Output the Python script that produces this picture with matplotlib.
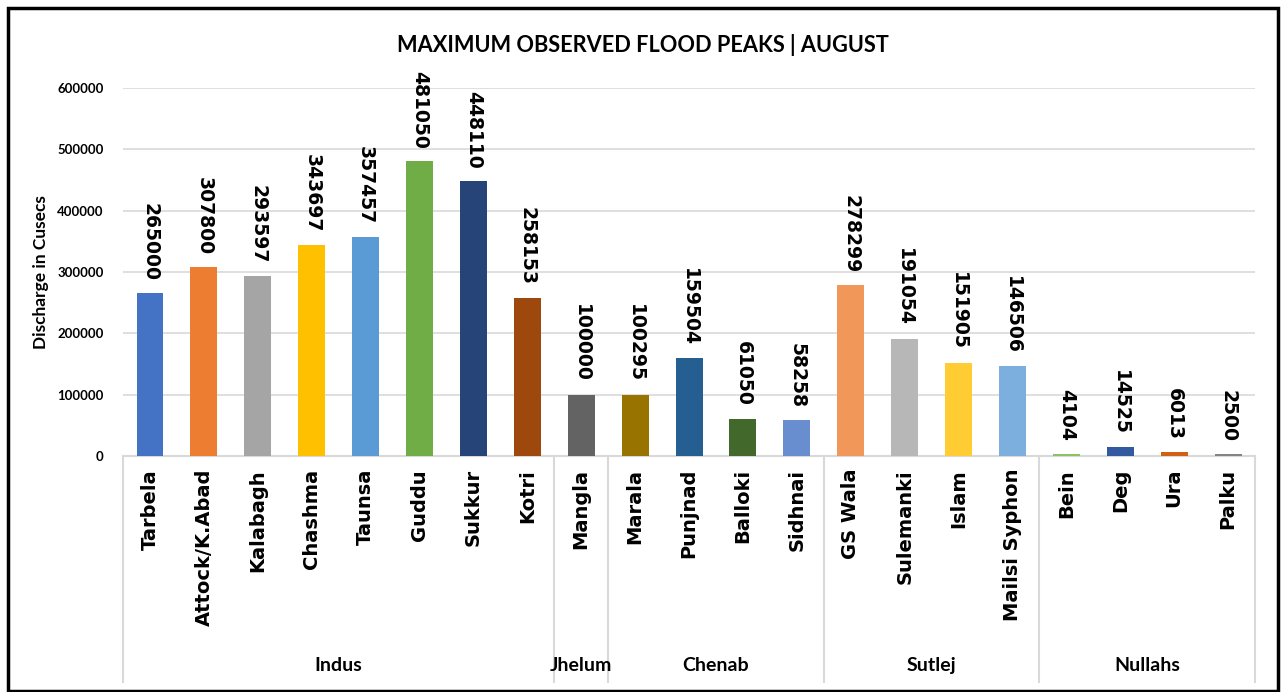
"""
Maximum observed flood peaks for August, grouped by river.
"""

import matplotlib.pyplot as plt
from matplotlib.patches import Rectangle
from matplotlib.transforms import blended_transform_factory

# Sites, discharge values and the river each belongs to
sites = ['Tarbela', 'Attock/K.Abad', 'Kalabagh', 'Chashma', 'Taunsa', 'Guddu', 'Sukkur', 'Kotri',
         'Mangla',
         'Marala', 'Punjnad', 'Balloki', 'Sidhnai',
         'GS Wala', 'Sulemanki', 'Islam', 'Mailsi Syphon',
         'Bein', 'Deg', 'Ura', 'Palku']
discharge = [265000, 307800, 293597, 343697, 357457, 481050, 448110, 258153,
             100000,
             100295, 159504, 61050, 58258,
             278299, 191054, 151905, 146506,
             4104, 14525, 6013, 2500]
rivers = ['Indus', 'Jhelum', 'Chenab', 'Sutlej', 'Nullahs']
river_sizes = [8, 1, 4, 4, 4]
yticks = [0, 100000, 200000, 300000, 400000, 500000, 600000]

colors = ['#4472C4', '#ED7D31', '#A5A5A5', '#FFC000', '#5B9BD5', '#70AD47', '#264478', '#9E480E',
          '#636363', '#997300', '#255E91', '#43682B', '#698ED0', '#F1975A', '#B7B7B7', '#FFCD33',
          '#7CAFDD', '#8CC168', '#335AA1', '#D26012', '#848484']

fig = plt.figure(figsize=(12.86, 6.92), dpi=100)
ax = fig.add_axes([0.0957, 0.341, 0.8802, 0.5318])

x = list(range(len(sites)))
ax.bar(x, discharge, width=0.5, color=colors, zorder=3)

# Rotated value labels above bars
for xi, v in zip(x, discharge):
    ax.annotate(str(v), (xi, v), xytext=(0, 9), textcoords='offset points',
                rotation=270, ha='center', va='bottom', fontsize=13.5, fontweight='bold')

ax.set_xlim(-0.5, len(sites) - 0.5)
ax.set_ylim(0, 600000)
ax.set_yticks(yticks)
ax.set_yticklabels([str(t) for t in yticks], fontsize=9.5, fontweight='bold', family='Lato')
ax.tick_params(axis='y', length=0, pad=14)
ax.tick_params(axis='x', length=0, labelbottom=False)
ax.grid(axis='y', color='#D9D9D9', linewidth=1.2, zorder=0)
for side in ['top', 'right', 'left']:
    ax.spines[side].set_visible(False)
ax.spines['bottom'].set_color('#D9D9D9')
ax.spines['bottom'].set_linewidth(1.5)
ax.set_ylabel('Discharge in Cusecs', fontsize=12.5, fontweight='bold', family='Lato', labelpad=6)

# Category labels and river group labels below the axis
trans = blended_transform_factory(ax.transData, ax.transAxes)
for xi, name in zip(x, sites):
    ax.text(xi, -0.035, name, transform=trans, rotation=90, ha='center', va='top',
            fontsize=14, fontweight='bold')

start = -0.5
ax.plot([start, start], [0, -0.615], transform=trans, color='#D9D9D9', lw=1.5, clip_on=False)
for river, n in zip(rivers, river_sizes):
    end = start + n
    ax.plot([end, end], [0, -0.615], transform=trans, color='#D9D9D9', lw=1.5, clip_on=False)
    ax.text((start + end) / 2, -0.57, river, transform=trans, ha='center', va='center',
            fontsize=14, fontweight='bold', family='Lato')
    start = end

fig.text(0.5, 0.935, 'MAXIMUM OBSERVED FLOOD PEAKS | AUGUST', ha='center', va='center',
         fontsize=15.7, fontweight='bold', family='Lato')

# Outer frame
fig.patches.append(Rectangle((0.0065, 0.002), 0.987, 0.987, transform=fig.transFigure,
                             fill=False, edgecolor='black', linewidth=2.5))

fig.savefig('out.png', dpi=100)
